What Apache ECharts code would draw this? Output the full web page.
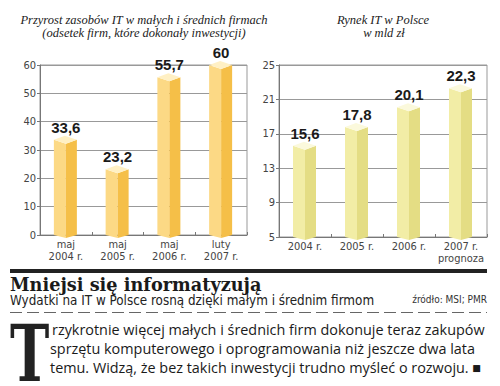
<!DOCTYPE html>
<html><head><meta charset="utf-8">
<script src="https://cdn.jsdelivr.net/npm/echarts@6/dist/echarts.min.js"></script>
<style>html,body{margin:0;padding:0;background:#fff}#c{width:500px;height:386px}</style>
</head><body><div id="c"></div>
<script>
// ---- data ----
const leftCategories = ['maj\n2004 r.', 'maj\n2005 r.', 'maj\n2006 r.', 'luty\n2007 r.'];
const leftValues = [33.6, 23.2, 55.7, 60];
const leftTicks = [0, 10, 20, 30, 40, 50, 60];
const rightCategories = ['2004 r.', '2005 r.', '2006 r.', '2007 r.\nprognoza'];
const rightValues = [15.6, 17.8, 20.1, 22.3];
const rightTicks = [5, 9, 13, 17, 21, 25];
const leftTitle = ['Przyrost zasobów IT w małych i średnich firmach', '(odsetek firm, które dokonały inwestycji)'];
const rightTitle = ['Rynek IT w Polsce', 'w mld zł'];
const heading = 'Mniejsi się informatyzują';
const subheading = 'Wydatki na IT w Polsce rosną dzięki małym i średnim firmom';
const source = 'źródło: MSI; PMR';
const dropCap = 'T';
const bodyLines = [
  'rzykrotnie więcej małych i średnich firm dokonuje teraz zakupów',
  'sprzętu komputerowego i oprogramowania niż jeszcze dwa lata',
  'temu. Widzą, że bez takich inwestycji trudno myśleć o rozwoju. ■'
];

const fmt = v => String(v).replace('.', ',');
const chart = echarts.init(document.getElementById('c'), null, {renderer: 'svg'});

function bar3d(minVal, cLeft, cRight, cTop) {
  return function (params, api) {
    const i = api.value(0), v = api.value(1);
    const t = api.coord([i, v]);
    const b = api.coord([i, minVal]);
    const cx = t[0], ty = t[1], by = b[1];
    const L = cx - 12, R = cx + 11, d = 4;
    return {
      type: 'group',
      children: [
        {type: 'polygon', shape: {points: [[L, ty], [cx, ty + d], [cx, by + 3], [L, by]]}, style: {fill: cLeft}},
        {type: 'polygon', shape: {points: [[cx, ty + d], [R, ty], [R, by], [cx, by + 3]]}, style: {fill: cRight}},
        {type: 'polygon', shape: {points: [[L, ty], [cx - 1, ty - d], [R, ty], [cx, ty + d]]}, style: {fill: cTop}},
        {type: 'text', style: {text: fmt(v), x: cx, y: ty - 5, align: 'center', verticalAlign: 'bottom',
          font: 'bold 15px "Liberation Sans", Arial, sans-serif', fill: '#1a1a1a'}}
      ]
    };
  };
}

const narrow = '"DejaVu Sans Condensed", "Liberation Sans Narrow", sans-serif';
const axisLabelStyle = {color: '#444', fontSize: 11, fontFamily: narrow};

function txt(text, x, y, font, fill, align, scaleX, scaleY) {
  const style = {text, x: 0, y: 0, font, fill: fill || '#222', align: align || 'left', verticalAlign: 'middle'};
  return {type: 'text', silent: true, x: x, y: y, scaleX: scaleX || 1, scaleY: scaleY || 1, style};
}

const titleFont = 'italic 12.5px "Liberation Serif", "DejaVu Serif", serif';
const bodyFont = '14.4px "Open Sans", sans-serif';

chart.setOption({
  animation: false,
  grid: [
    {left: 40, right: 253, top: 65, bottom: 151, show: true, borderColor: '#999', borderWidth: 1},
    {left: 279, right: 13, top: 65, bottom: 149, show: true, borderColor: '#999', borderWidth: 1}
  ],
  xAxis: [
    {type: 'category', gridIndex: 0, data: leftCategories, boundaryGap: true,
     axisLine: {lineStyle: {color: '#777'}}, axisTick: {show: true, inside: true, length: 3, lineStyle: {color: '#777'}},
     axisLabel: Object.assign({margin: 3, lineHeight: 12, interval: 0}, axisLabelStyle)},
    {type: 'category', gridIndex: 1, data: rightCategories, boundaryGap: true,
     axisLine: {lineStyle: {color: '#777'}}, axisTick: {show: true, inside: true, length: 3, lineStyle: {color: '#777'}},
     axisLabel: Object.assign({margin: 3, lineHeight: 12, interval: 0}, axisLabelStyle)}
  ],
  yAxis: [
    {type: 'value', gridIndex: 0, min: leftTicks[0], max: leftTicks[leftTicks.length - 1], interval: leftTicks[1] - leftTicks[0],
     axisLine: {show: true, lineStyle: {color: '#777'}}, axisTick: {show: true, length: 3, lineStyle: {color: '#777'}},
     splitLine: {lineStyle: {color: '#999'}}, axisLabel: Object.assign({margin: 4}, axisLabelStyle)},
    {type: 'value', gridIndex: 1, min: rightTicks[0], max: rightTicks[rightTicks.length - 1], interval: rightTicks[1] - rightTicks[0],
     axisLine: {show: true, lineStyle: {color: '#777'}}, axisTick: {show: true, length: 3, lineStyle: {color: '#777'}},
     splitLine: {lineStyle: {color: '#999'}}, axisLabel: Object.assign({margin: 4}, axisLabelStyle)}
  ],
  series: [
    {type: 'custom', xAxisIndex: 0, yAxisIndex: 0, data: leftValues.map((v, i) => [i, v]),
     renderItem: bar3d(leftTicks[0], '#fcd985', '#f5bf48', '#fff0c4'), encode: {x: 0, y: 1}},
    {type: 'custom', xAxisIndex: 1, yAxisIndex: 1, data: rightValues.map((v, i) => [i, v]),
     renderItem: bar3d(rightTicks[0], '#f2eda6', '#e4dd84', '#fbf9dc'), encode: {x: 0, y: 1}}
  ],
  graphic: [
    txt(leftTitle[0], 144, 20, titleFont, '#222', 'center'),
    txt(leftTitle[1], 144, 33, titleFont, '#222', 'center'),
    txt(rightTitle[0], 383, 20, titleFont, '#222', 'center'),
    txt(rightTitle[1], 384, 33, titleFont, '#222', 'center'),
    {type: 'rect', silent: true, shape: {x: 10, y: 269, width: 477, height: 4}, style: {fill: '#222'}},
    txt(heading, 10, 284.5, 'bold 17.7px "DejaVu Serif", serif', '#1a1a1a', 'left'),
    txt(subheading, 10, 299.5, '14.5px ' + narrow, '#222', 'left', 0.92),
    txt(source, 487, 299.5, '10px ' + narrow, '#333', 'right'),
    {type: 'line', silent: true, shape: {x1: 10, y1: 312.5, x2: 487, y2: 312.5}, style: {stroke: '#666', lineWidth: 1, lineDash: [12, 5]}},
    txt(dropCap, 10, 353.5, 'bold 64px "DejaVu Serif", serif', '#222', 'left', 0.825, 1.23),
    txt(bodyLines[0], 52, 329, bodyFont, '#1a1a1a', 'left'),
    txt(bodyLines[1], 50, 348, bodyFont, '#1a1a1a', 'left'),
    txt(bodyLines[2], 50, 367, bodyFont, '#1a1a1a', 'left')
  ]
});
</script></body></html>
